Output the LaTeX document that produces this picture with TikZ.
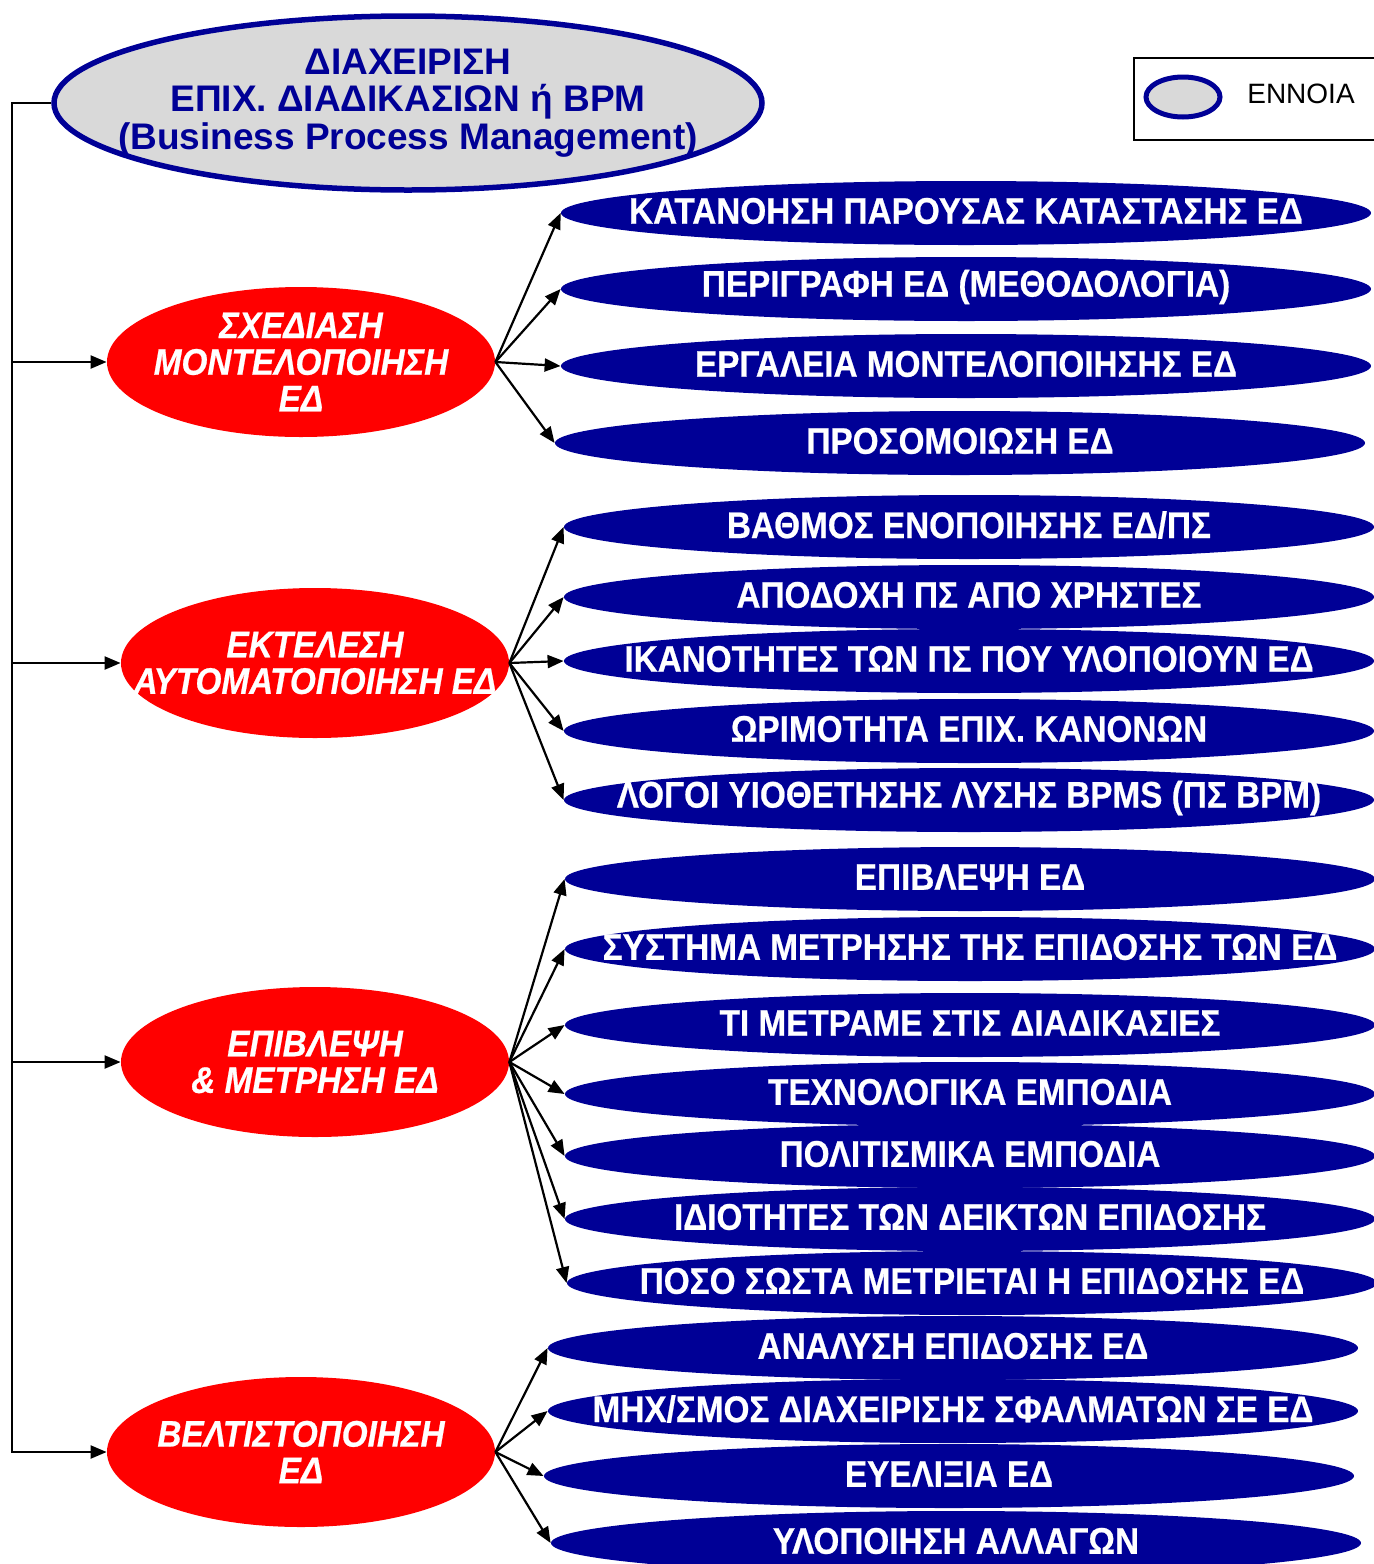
\documentclass[tikz,border=0pt]{standalone}
\usepackage{fontspec}
\setmainfont{Liberation Sans}
\newfontfamily\condfont[FakeStretch=0.9,FakeBold=0.6]{Liberation Sans}
\newfontfamily\redfont[FakeStretch=0.9,FakeBold=0.6]{Liberation Sans}
\usetikzlibrary{shapes.geometric,arrows.meta}
\definecolor{navy}{RGB}{0,0,150}
\definecolor{ringgray}{RGB}{217,217,217}
\definecolor{pured}{RGB}{255,0,0}
\begin{document}
\begin{tikzpicture}[x=0.5pt,y=-0.5pt,
 rootnode/.style={ellipse, draw=navy, line width=2.75pt, fill=ringgray, minimum width=354pt, minimum height=87pt, inner sep=0pt},
 roottext/.style={text=navy, font=\bfseries\fontsize{18.5}{18.75}\selectfont, align=center, inner sep=0pt},
 phase/.style={ellipse, fill=pured, minimum width=194pt, minimum height=75pt, inner sep=0pt},
 phasetext/.style={text=white, font=\redfont\bfseries\itshape\fontsize{18.5}{18.3}\selectfont, align=center, inner sep=0pt},
 topic/.style={ellipse, fill=navy, minimum width=405pt, minimum height=32pt, inner sep=0pt},
 topictext/.style={text=white, font=\condfont\bfseries\fontsize{18.5}{18}\selectfont, inner sep=0pt, yshift=1pt},
 arr/.style={line width=1.1pt, -{Triangle[length=8pt,width=6.5pt]}},
]
\useasboundingbox (0,0) rectangle (1374,1564);

% root
\node[rootnode, label={[roottext]center:{ΔΙΑΧΕΙΡΙΣΗ\\ΕΠΙΧ. ΔΙΑΔΙΚΑΣΙΩΝ ή BPM\\(Business Process Management)}}] (root) at (408,103) {};

% legend
\node[rectangle, draw=black, line width=0.75pt, fill=white, anchor=north west, minimum width=130pt, minimum height=41pt, inner sep=0pt] (legend) at (1133,57) {};
\node[ellipse, draw=navy, line width=2.5pt, fill=ringgray, minimum width=37pt, minimum height=20pt, inner sep=0pt] (legell) at (1183,97) {};
\node[font=\fontsize{14}{16}\selectfont, inner sep=0pt] (legtxt) at (1301,94) {ENNOIA};

% phases
\node[phase, label={[phasetext]center:{ΣΧΕΔΙΑΣΗ\\ΜΟΝΤΕΛΟΠΟΙΗΣΗ\\ΕΔ}}] (r1) at (301,362) {};
\node[phase, label={[phasetext]center:{ΕΚΤΕΛΕΣΗ\\ΑΥΤΟΜΑΤΟΠΟΙΗΣΗ ΕΔ}}] (r2) at (315,663) {};
\node[phase, label={[phasetext]center:{ΕΠΙΒΛΕΨΗ\\\& ΜΕΤΡΗΣΗ ΕΔ}}] (r3) at (315,1062) {};
\node[phase, label={[phasetext]center:{ΒΕΛΤΙΣΤΟΠΟΙΗΣΗ\\ΕΔ}}] (r4) at (301,1452) {};

% topics group 1
\node[topic, label={[topictext]center:ΚΑΤΑΝΟΗΣΗ ΠΑΡΟΥΣΑΣ ΚΑΤΑΣΤΑΣΗΣ ΕΔ}] (a1) at (966,213) {};
\node[topic, label={[topictext]center:ΠΕΡΙΓΡΑΦΗ ΕΔ (ΜΕΘΟΔΟΛΟΓΙΑ)}] (a2) at (966,289) {};
\node[topic, label={[topictext]center:ΕΡΓΑΛΕΙΑ ΜΟΝΤΕΛΟΠΟΙΗΣΗΣ ΕΔ}] (a3) at (966,366) {};
\node[topic, label={[topictext]center:ΠΡΟΣΟΜΟΙΩΣΗ ΕΔ}] (a4) at (960,443) {};

% group 2
\node[topic, label={[topictext]center:ΒΑΘΜΟΣ ΕΝΟΠΟΙΗΣΗΣ ΕΔ/ΠΣ}] (b1) at (969,527) {};
\node[topic, label={[topictext]center:ΑΠΟΔΟΧΗ ΠΣ ΑΠΟ ΧΡΗΣΤΕΣ}] (b2) at (969,597) {};
\node[topic, label={[topictext]center:ΙΚΑΝΟΤΗΤΕΣ ΤΩΝ ΠΣ ΠΟΥ ΥΛΟΠΟΙΟΥΝ ΕΔ}] (b3) at (969,661) {};
\node[topic, label={[topictext]center:ΩΡΙΜΟΤΗΤΑ ΕΠΙΧ. ΚΑΝΟΝΩΝ}] (b4) at (969,731) {};
\node[topic, label={[topictext]center:ΛΟΓΟΙ ΥΙΟΘΕΤΗΣΗΣ ΛΥΣΗΣ BPMS (ΠΣ BPM)}] (b5) at (969,800) {};

% group 3
\node[topic, label={[topictext]center:ΕΠΙΒΛΕΨΗ ΕΔ}] (c1) at (970,879) {};
\node[topic, label={[topictext]center:ΣΥΣΤΗΜΑ ΜΕΤΡΗΣΗΣ ΤΗΣ ΕΠΙΔΟΣΗΣ ΤΩΝ ΕΔ}] (c2) at (970,949) {};
\node[topic, label={[topictext]center:ΤΙ ΜΕΤΡΑΜΕ ΣΤΙΣ ΔΙΑΔΙΚΑΣΙΕΣ}] (c3) at (970,1025) {};
\node[topic, label={[topictext]center:ΤΕΧΝΟΛΟΓΙΚΑ ΕΜΠΟΔΙΑ}] (c4) at (970,1094) {};
\node[topic, label={[topictext]center:ΠΟΛΙΤΙΣΜΙΚΑ ΕΜΠΟΔΙΑ}] (c5) at (970,1156) {};
\node[topic, label={[topictext]center:ΙΔΙΟΤΗΤΕΣ ΤΩΝ ΔΕΙΚΤΩΝ ΕΠΙΔΟΣΗΣ}] (c6) at (970,1219) {};
\node[topic, label={[topictext]center:ΠΟΣΟ ΣΩΣΤΑ ΜΕΤΡΙΕΤΑΙ Η ΕΠΙΔΟΣΗΣ ΕΔ}] (c7) at (972,1283) {};

% group 4
\node[topic, label={[topictext]center:ΑΝΑΛΥΣΗ ΕΠΙΔΟΣΗΣ ΕΔ}] (d1) at (953,1348) {};
\node[topic, label={[topictext]center:ΜΗΧ/ΣΜΟΣ ΔΙΑΧΕΙΡΙΣΗΣ ΣΦΑΛΜΑΤΩΝ ΣΕ ΕΔ}] (d2) at (953,1411) {};
\node[topic, label={[topictext]center:ΕΥΕΛΙΞΙΑ ΕΔ}] (d3) at (949,1476) {};
\node[topic, label={[topictext]center:ΥΛΟΠΟΙΗΣΗ ΑΛΛΑΓΩΝ}] (d4) at (956,1543) {};

% trunk
\coordinate (tk) at (12,103);
\draw[arr] (root.west) -- (tk) |- (r4.west);
\draw[arr] (tk |- r1.west) -- (r1.west);
\draw[arr] (tk |- r2.west) -- (r2.west);
\draw[arr] (tk |- r3.west) -- (r3.west);

% branches
\foreach \t in {a1,a2,a3,a4} \draw[arr] (r1.east) -- (\t.west);
\foreach \t in {b1,b2,b3,b4,b5} \draw[arr] (r2.east) -- (\t.west);
\foreach \t in {c1,c2,c3,c4,c5,c6,c7} \draw[arr] (r3.east) -- (\t.west);
\foreach \t in {d1,d2,d3,d4} \draw[arr] (r4.east) -- (\t.west);
\end{tikzpicture}
\end{document}
